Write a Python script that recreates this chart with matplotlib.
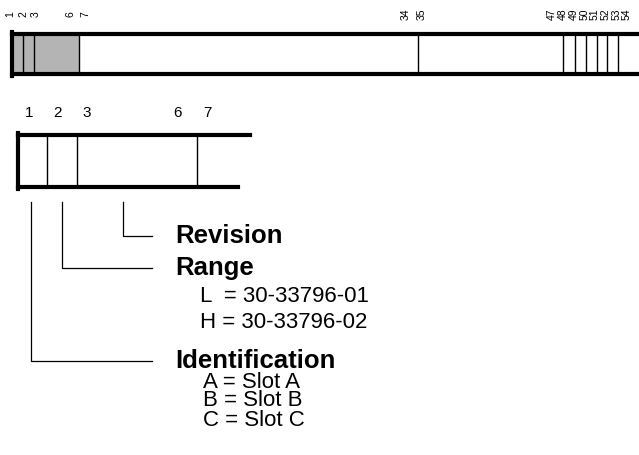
import matplotlib
matplotlib.use("Agg")
import matplotlib.pyplot as plt
from matplotlib.patches import Rectangle

plt.rcParams["font.family"] = ["Liberation Sans", "DejaVu Sans"]

# top strip: pin numbers and where they sit (pixel columns)
top_pins = ["1", "2", "3", "6", "7", "34", "35",
            "47", "48", "49", "50", "51", "52", "53", "54"]
top_pin_x = [10, 23, 36, 71, 85, 406, 422,
             552, 562.7, 573.4, 584.1, 594.8, 605.5, 616.2, 627]
top_dividers = [23, 34, 79, 418, 563, 575, 586, 597, 607, 618]
shaded_span = (12, 79)

# zoomed part of the strip
zoom_pins = ["1", "2", "3", "6", "7"]
zoom_pin_x = [29, 57, 87, 177, 207]
zoom_dividers = [47, 77, 197]

# callouts: (column of line, row of elbow, heading, detail lines)
callout_x = [123, 62, 31]
callout_y = [236, 268, 361]
headings = ["Revision", "Range", "Identification"]
details = [
    [],
    ["L  = 30-33796-01", "H = 30-33796-02"],
    ["A = Slot A", "B = Slot B", "C = Slot C"],
]

fig = plt.figure(figsize=(6.39, 4.55), dpi=100)
ax = fig.add_axes([0, 0, 1, 1])
ax.set_xlim(0, 639)
ax.set_ylim(455, 0)
ax.axis("off")

# --- top strip
top, bot, left, right = 34, 74, 12, 641
ax.add_patch(Rectangle((shaded_span[0], top), shaded_span[1] - shaded_span[0],
                       bot - top, color="#b4b4b4", lw=0))
ax.plot([left, right], [top, top], color="black", lw=3)
ax.plot([left, right], [bot, bot], color="black", lw=3)
ax.plot([left, left], [top - 2, bot + 2], color="black", lw=3)
for x in top_dividers:
    ax.plot([x, x], [top, bot], color="black", lw=1)
for lab, x in zip(top_pins, top_pin_x):
    ax.text(x, 14, lab, rotation=90, ha="center", va="center", fontsize=7.5)

# --- zoomed strip
ztop, zbot, zleft = 134.5, 186.5, 17.5
ax.plot([zleft, 250], [ztop, ztop], color="black", lw=3)
ax.plot([zleft, 238], [zbot, zbot], color="black", lw=3)
ax.plot([zleft, zleft], [ztop - 2, zbot + 2], color="black", lw=3)
for x in zoom_dividers:
    ax.plot([x, x], [ztop, zbot], color="black", lw=1)
for lab, x in zip(zoom_pins, zoom_pin_x):
    ax.text(x, 113, lab, ha="center", va="center", fontsize=11)

# --- callout lines and texts
for x, y in zip(callout_x, callout_y):
    ax.plot([x, x, 152], [202, y, y], color="black", lw=0.9)

for y, head in zip(callout_y, headings):
    ax.text(175, y, head, ha="left", va="center", fontsize=18.5, fontweight="bold")

range_rows = [296, 322]
ident_rows = [382, 401, 420]
for y, line in zip(range_rows, details[1]):
    ax.text(200, y, line, ha="left", va="center", fontsize=16)
for y, line in zip(ident_rows, details[2]):
    ax.text(203, y, line, ha="left", va="center", fontsize=16)

fig.savefig("out.png", dpi=100)
